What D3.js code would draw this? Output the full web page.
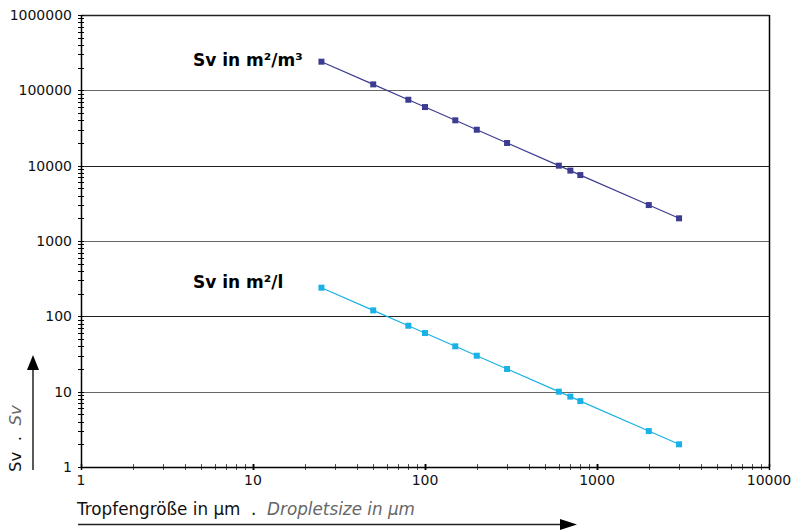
<!DOCTYPE html>
<html>
<head>
<meta charset="utf-8">
<script src="https://cdn.jsdelivr.net/npm/d3@7"></script>
<style>
  body { margin: 0; background: #fff; }
  text { font-family: "DejaVu Sans", Verdana, sans-serif; }
</style>
</head>
<body>
<svg id="chart" width="791" height="530"></svg>
<script>
// droplet size in µm
var sizes = [25, 50, 80, 100, 150, 200, 300, 600, 700, 800, 2000, 3000];
// Sv in m²/m³
var svPerM3 = [240000, 120000, 75000, 60000, 40000, 30000, 20000, 10000, 8600, 7500, 3000, 2000];
// Sv in m²/l
var svPerL = [240, 120, 75, 60, 40, 30, 20, 10, 8.6, 7.5, 3, 2];
var xTicks = [1, 10, 100, 1000, 10000];
var yTicks = [1, 10, 100, 1000, 10000, 100000, 1000000];

var svg = d3.select("#chart"),
    margin = {top: 15, right: 22, bottom: 63, left: 81},
    width = +svg.attr("width") - margin.left - margin.right,
    height = +svg.attr("height") - margin.top - margin.bottom;

var x = d3.scaleLog().domain([1, 10000]).range([0, width]);
var y = d3.scaleLog().domain([1, 1000000]).range([height, 0]);

var g = svg.append("g")
    .attr("transform", "translate(" + margin.left + "," + margin.top + ")");

// horizontal grid lines at each decade
g.selectAll(".grid")
  .data(yTicks.slice(1))
  .enter().append("line")
    .attr("x1", 0).attr("x2", width)
    .attr("y1", function(d) { return Math.round(y(d)) + 0.5; })
    .attr("y2", function(d) { return Math.round(y(d)) + 0.5; })
    .attr("stroke", function(d, i) { return i % 2 ? "#222" : "#666"; })
    .attr("stroke-width", function(d) { return d === 1000000 ? 1.5 : 1.2; });

// right border
g.append("line")
  .attr("x1", width + 0.5).attr("x2", width + 0.5)
  .attr("y1", 0).attr("y2", height)
  .attr("stroke", "#000").attr("stroke-width", 1.5);

// minor ticks (2..9 per decade), crossing the axis line
function minors(lo, hi) {
  var out = [];
  for (var p = lo; p < hi; p *= 10)
    for (var k = 1; k <= 10; k++) out.push(p * k);
  return out;
}
g.selectAll(".ytick")
  .data(minors(1, 1000000))
  .enter().append("line")
    .attr("x1", -3).attr("x2", 3)
    .attr("y1", function(d) { return Math.round(y(d)) + 0.5; })
    .attr("y2", function(d) { return Math.round(y(d)) + 0.5; })
    .attr("stroke", "#000");
g.selectAll(".xtick")
  .data(minors(1, 10000))
  .enter().append("line")
    .attr("y1", height - 3).attr("y2", height + 3)
    .attr("x1", function(d) { return Math.round(x(d)) + 0.5; })
    .attr("x2", function(d) { return Math.round(x(d)) + 0.5; })
    .attr("stroke", function(d) { return xTicks.indexOf(d) >= 0 ? "#000" : "#555"; })
    .attr("stroke-width", function(d) { return xTicks.indexOf(d) >= 0 ? 1.5 : 1; });

// axis lines
g.append("line").attr("x1", 0.5).attr("x2", 0.5).attr("y1", 0).attr("y2", height)
  .attr("stroke", "#000").attr("stroke-width", 1.5);
g.append("line").attr("x1", 0).attr("x2", width).attr("y1", height + 0.5).attr("y2", height + 0.5)
  .attr("stroke", "#000").attr("stroke-width", 1.5);

// tick labels
g.selectAll(".ylab")
  .data(yTicks)
  .enter().append("text")
    .attr("x", -9)
    .attr("y", function(d) { return y(d); })
    .attr("dy", "0.35em")
    .attr("text-anchor", "end")
    .attr("font-size", 14)
    .attr("fill", "#111")
    .text(function(d) { return d; });
g.selectAll(".xlab")
  .data(xTicks)
  .enter().append("text")
    .attr("x", function(d) { return x(d); })
    .attr("y", height + 18)
    .attr("text-anchor", "middle")
    .attr("font-size", 14)
    .attr("fill", "#111")
    .text(function(d) { return d; });

// series
var line = d3.line()
    .x(function(d) { return x(d[0]); })
    .y(function(d) { return y(d[1]); });

[[svPerM3, "#3c3c92"], [svPerL, "#1ab2e6"]].forEach(function(s) {
  var pts = d3.zip(sizes, s[0]);
  g.append("path")
    .datum(pts)
    .attr("d", line)
    .attr("fill", "none")
    .attr("stroke", s[1])
    .attr("stroke-width", 1.2);
  g.selectAll(null)
    .data(pts)
    .enter().append("rect")
      .attr("x", function(d) { return x(d[0]) - 3; })
      .attr("y", function(d) { return y(d[1]) - 3; })
      .attr("width", 6).attr("height", 6)
      .attr("fill", s[1]);
});

// series labels
g.append("text")
  .attr("x", 112).attr("y", 51)
  .attr("font-size", 17).attr("font-weight", "bold")
  .text("Sv in m²/m³");
g.append("text")
  .attr("x", 112).attr("y", 273)
  .attr("font-size", 17).attr("font-weight", "bold")
  .text("Sv in m²/l");

// axis titles with arrows
var ytitle = svg.append("text")
  .attr("transform", "translate(21,472) rotate(-90)")
  .attr("font-size", 16.5)
  .attr("xml:space", "preserve");
ytitle.append("tspan").attr("fill", "#111").text("Sv  .  ");
ytitle.append("tspan").attr("fill", "#666").attr("font-style", "italic").text("Sv");

svg.append("line").attr("x1", 33).attr("x2", 33).attr("y1", 470).attr("y2", 366)
  .attr("stroke", "#222").attr("stroke-width", 1.5);
svg.append("path").attr("d", "M33,355L27,370L39,370Z").attr("fill", "#000");

var xtitle = svg.append("text")
  .attr("x", 77).attr("y", 515)
  .attr("font-size", 16.8)
  .attr("xml:space", "preserve");
xtitle.append("tspan").attr("fill", "#111").text("Tropfengröße in µm  .  ");
xtitle.append("tspan").attr("fill", "#666").attr("font-style", "italic").text("Dropletsize in µm");

svg.append("line").attr("x1", 78).attr("x2", 562).attr("y1", 524.5).attr("y2", 524.5)
  .attr("stroke", "#222").attr("stroke-width", 1.5);
svg.append("path").attr("d", "M577,524.5L560,519L560,530Z").attr("fill", "#000");
</script>
</body>
</html>
